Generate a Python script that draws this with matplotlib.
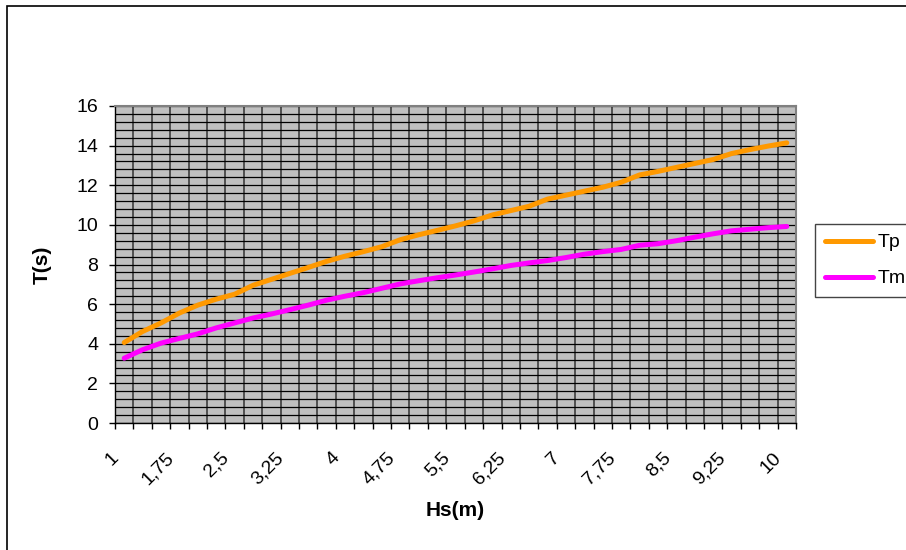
import matplotlib
matplotlib.use('Agg')
import matplotlib.pyplot as plt
import matplotlib.transforms as mtransforms
from matplotlib.patches import Rectangle
import numpy as np

plt.rcParams['font.family'] = ['Liberation Sans', 'DejaVu Sans']

# wave height categories (m)
hs = [1, 1.25, 1.5, 1.75, 2, 2.25, 2.5, 2.75, 3, 3.25, 3.5, 3.75, 4,
      4.25, 4.5, 4.75, 5, 5.25, 5.5, 5.75, 6, 6.25, 6.5, 6.75, 7,
      7.25, 7.5, 7.75, 8, 8.25, 8.5, 8.75, 9, 9.25, 9.5, 9.75, 10]

# peak period Tp (s)
tp = [4.06, 4.62, 5.05, 5.55, 5.95, 6.25, 6.5, 6.95, 7.25, 7.55, 7.85, 8.16,
      8.42, 8.65, 8.9, 9.25, 9.5, 9.72, 9.95, 10.2, 10.5, 10.72, 10.94, 11.3,
      11.5, 11.7, 11.9, 12.15, 12.52, 12.7, 12.9, 13.1, 13.3, 13.6, 13.8,
      13.98, 14.14]

# mean period Tm (s)
tm = [3.27, 3.7, 4.03, 4.27, 4.5, 4.8, 5.05, 5.3, 5.5, 5.72, 5.95, 6.2,
      6.4, 6.58, 6.8, 7.02, 7.18, 7.33, 7.47, 7.62, 7.78, 7.95, 8.08, 8.2,
      8.35, 8.52, 8.65, 8.76, 8.97, 9.05, 9.2, 9.38, 9.55, 9.7, 9.78, 9.86,
      9.92]

label_every = 3

fig = plt.figure(figsize=(9.06, 5.5), dpi=100)
ax = fig.add_axes([115/906, 1 - 423/550, 681/906, 317/550])
ax.set_facecolor('#C0C0C0')

ind = np.arange(len(hs))
tp_line, = ax.plot(ind, tp, color='#FF9900', lw=3.6, solid_capstyle='round', zorder=3)
tm_line, = ax.plot(ind, tm, color='#FF00FF', lw=3.6, solid_capstyle='round', zorder=3)

ax.set_xlim(-0.5, len(hs) - 0.5)
ax.set_ylim(0, 16)

# y axis: major every 2, gridlines every 0.4
ax.set_yticks(np.arange(0, 17, 2))
ax.set_yticks(np.arange(0, 16.01, 0.4), minor=True)
ax.tick_params(axis='y', which='major', length=4, width=1, pad=8, labelsize=14)
ax.tick_params(axis='y', which='minor', length=0)
ax.grid(axis='y', which='both', color='black', lw=0.9, zorder=1)

# x axis: ticks/gridlines between categories, labels on every 3rd category
ax.set_xticks(np.arange(-0.5, len(hs), 1.0))
ax.set_xticklabels([])
lab_idx = ind[::label_every]
ax.set_xticks(lab_idx, minor=True)
ax.set_xticklabels([('%g' % hs[i]).replace('.', ',') for i in lab_idx], minor=True,
                   rotation=45, ha='right', va='center', rotation_mode='anchor', fontsize=14)
ax.tick_params(axis='x', which='major', length=4, width=1, direction='out')
ax.tick_params(axis='x', which='minor', length=0, pad=23)
ax.grid(axis='x', which='major', color='#333333', lw=1.1, zorder=1)
ax.set_axisbelow(True)
shift = mtransforms.ScaledTranslation(-6/72, 0, fig.dpi_scale_trans)
for lbl in ax.get_xticklabels(minor=True):
    lbl.set_transform(lbl.get_transform() + shift)

for side in ['top', 'right']:
    ax.spines[side].set_color('#808080')
    ax.spines[side].set_linewidth(1.5)
for side in ['left', 'bottom']:
    ax.spines[side].set_color('black')
    ax.spines[side].set_linewidth(1.0)

ax.set_ylabel('T(s)', fontsize=15, fontweight='bold')
ax.yaxis.set_label_coords((52 - 115) / 681, 0.5)
ax.set_xlabel('Hs(m)', fontsize=15, fontweight='bold')
ax.xaxis.set_label_coords(0.5, (423 - 510) / 317)
ax.xaxis.label.set_va('center')

leg = fig.legend([tp_line, tm_line], ['Tp', 'Tm'], loc='upper left',
                 bbox_to_anchor=(815/906, 1 - 224/550), borderaxespad=0,
                 fontsize=14, handlelength=2.5, handletextpad=0.2,
                 borderpad=0.5, labelspacing=0.95, fancybox=False,
                 framealpha=1, edgecolor='#444444')
leg.get_frame().set_linewidth(1.0)

# chart area border (runs off the right/bottom edge like the original)
fig.patches.append(Rectangle((7/906, -0.1), 1.2, 1.1 - 6/550, transform=fig.transFigure,
                             fill=False, edgecolor='black', lw=1.2))

fig.savefig('out.png', dpi=100)
